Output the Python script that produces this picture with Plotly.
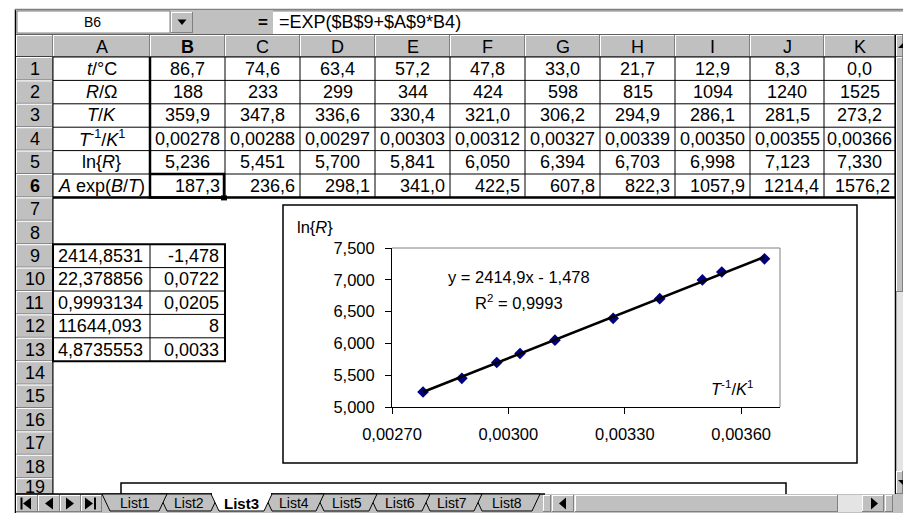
import plotly.graph_objects as go

W, H = 903, 513

# ---------------- data ----------------
col_letters = ["A", "B", "C", "D", "E", "F", "G", "H", "I", "J", "K"]
row_labels = ["<i>t</i>/°C", "<i>R</i>/Ω", "<i>T</i>/<i>K</i>",
              "<i>T</i><sup>-1</sup>/<i>K</i><sup>1</sup>", "ln{<i>R</i>}",
              "<i>A</i> exp(<i>B</i>/<i>T</i>)"]
t_C = [86.7, 74.6, 63.4, 57.2, 47.8, 33.0, 21.7, 12.9, 8.3, 0.0]
R_ohm = [188, 233, 299, 344, 424, 598, 815, 1094, 1240, 1525]
T_K = [359.9, 347.8, 336.6, 330.4, 321.0, 306.2, 294.9, 286.1, 281.5, 273.2]
inv_T = [0.00278, 0.00288, 0.00297, 0.00303, 0.00312, 0.00327, 0.00339, 0.00350, 0.00355, 0.00366]
ln_R = [5.236, 5.451, 5.700, 5.841, 6.050, 6.394, 6.703, 6.998, 7.123, 7.330]
fit_R = [187.3, 236.6, 298.1, 341.0, 422.5, 607.8, 822.3, 1057.9, 1214.4, 1576.2]
linest_A = [2414.8531, 22.378856, 0.9993134, 11644.093, 4.8735553]
linest_B = [-1.478, 0.0722, 0.0205, 8, 0.0033]
slope, intercept, r_squared = 2414.9, -1.478, 0.9993
x_ticks = [0.0027, 0.0030, 0.0033, 0.0036]
sheet_tabs = ["List1", "List2", "List3", "List4", "List5", "List6", "List7", "List8"]
active_tab = "List3"
name_box = "B6"
formula = "=EXP($B$9+$A$9*B4)"

FONT = "Liberation Sans, Arial, sans-serif"
GRAY = "#c0c0c0"
DARK = "#808080"

shapes, annos = [], []


def px(x):
    return x / W


def py(y):
    return 1 - y / H


def rect(x0, y0, x1, y1, fill=None, color=None, width=1, layer="below"):
    shapes.append(dict(type="rect", xref="paper", yref="paper",
                       x0=px(x0), x1=px(x1), y0=py(y1), y1=py(y0),
                       fillcolor=fill or "rgba(0,0,0,0)",
                       line=dict(color=color or "rgba(0,0,0,0)", width=width if color else 0),
                       layer=layer))


def line(x0, y0, x1, y1, color="black", width=1, layer="below"):
    shapes.append(dict(type="line", xref="paper", yref="paper",
                       x0=px(x0), x1=px(x1), y0=py(y0), y1=py(y1),
                       line=dict(color=color, width=width), layer=layer))


def poly(pts, fill="black", color=None, width=1, layer="below"):
    d = "M " + " L ".join(f"{px(x)},{py(y)}" for x, y in pts) + " Z"
    shapes.append(dict(type="path", xref="paper", yref="paper", path=d,
                       fillcolor=fill,
                       line=dict(color=color or "rgba(0,0,0,0)", width=width if color else 0),
                       layer=layer))


def text(x, y, s, size=18, xanchor="center", family=FONT, color="black"):
    annos.append(dict(xref="paper", yref="paper", x=px(x), y=py(y), text=s,
                      showarrow=False, xanchor=xanchor, yanchor="middle",
                      font=dict(size=size, family=family, color=color)))


def bevel(x0, y0, x1, y1, fill=GRAY):
    rect(x0, y0, x1, y1, fill=fill)
    line(x0, y0 + 0.5, x1, y0 + 0.5, "white")
    line(x0 + 0.5, y0, x0 + 0.5, y1, "white")
    line(x0, y1 - 0.5, x1, y1 - 0.5, DARK)
    line(x1 - 0.5, y0, x1 - 0.5, y1, DARK)


def fmt(v, d):
    return f"{v:.{d}f}".replace(".", ",")


# ---------------- geometry ----------------
cols = [53, 150, 225, 300, 375, 450, 525, 600, 675, 750, 824, 895]
HDR_T, HDR_B, RH = 35, 57, 23.4
TAB_T = 494


def rtop(n):
    return HDR_B + (n - 1) * RH


# frame
line(15.5, 9, 15.5, 513, "black", 1.5)
line(15, 9.5, 903, 9.5, DARK, 1.5)

# formula bar
rect(16, 10, 903, 35, fill=GRAY)
rect(17, 11, 170, 33, fill="white", color=DARK)
text(92, 22, name_box, size=14)
bevel(171, 12, 193, 33)
poly([(177.5, 19.5), (186.5, 19.5), (182, 25)])
text(263, 22, "<b>=</b>", size=17)
rect(273, 11, 903, 34, fill="white")
line(273, 11, 903, 11, DARK)
text(277, 22, formula, size=18, xanchor="left")
line(16, 35, 903, 35, "black")

# column headers
bevel(16, HDR_T, cols[0], HDR_B)
for i, c in enumerate(col_letters):
    bevel(cols[i], HDR_T, cols[i + 1], HDR_B)
    lab = f"<b>{c}</b>" if c == "B" else c
    text((cols[i] + cols[i + 1]) / 2, (HDR_T + HDR_B) / 2 + 0.5, lab, size=18)
line(16, HDR_B, 895, HDR_B, "black")

# row headers
for n in range(1, 20):
    y0, y1 = rtop(n), min(rtop(n + 1), TAB_T)
    bevel(16, y0, cols[0], y1)
    lab = f"<b>{n}</b>" if n == 6 else str(n)
    yc = (y0 + y1) / 2 if n < 19 else 487
    text(34.5, yc, lab, size=18)
line(cols[0], HDR_B, cols[0], TAB_T, "black")

# data block rows 1-6
rows_vals = [
    [fmt(v, 1) for v in t_C],
    [str(v) for v in R_ohm],
    [fmt(v, 1) for v in T_K],
    [fmt(v, 5) for v in inv_T],
    [fmt(v, 3) for v in ln_R],
    [fmt(v, 1) for v in fit_R],
]
for r in range(6):
    y0, y1 = rtop(r + 1), rtop(r + 2)
    yc = (y0 + y1) / 2
    if r < 5:
        text((cols[0] + cols[1]) / 2, yc, row_labels[r], size=18)
    else:
        text(cols[0] + 3, yc, row_labels[r], size=18, xanchor="left")
    for j, s in enumerate(rows_vals[r]):
        if r < 5:
            text((cols[j + 1] + cols[j + 2]) / 2, yc, s, size=18)
        else:
            text(cols[j + 2] - 3, yc, s, size=18, xanchor="right")
for r in range(1, 7):
    line(cols[0], rtop(r + 1), cols[-1], rtop(r + 1), "black", 1)
for c in cols[1:]:
    line(c, HDR_B, c, rtop(7), "black", 1)
line(cols[1], HDR_B, cols[1], rtop(6), "black", 2.5)
line(cols[0], rtop(7), cols[-1], rtop(7), "black", 2.5)
# active cell B6
rect(cols[1], rtop(6), cols[2] - 1, rtop(7), color="black", width=2.5)
rect(cols[2] - 4, rtop(7) - 2, cols[2] + 2, rtop(7) + 3, fill="black")

# LINEST block rows 9-13
for k in range(5):
    y0, y1 = rtop(9 + k), rtop(10 + k)
    yc = (y0 + y1) / 2
    text(cols[0] + 3, yc, str(linest_A[k]).replace(".", ","), size=18, xanchor="left")
    text(cols[2] - 4, yc, str(linest_B[k]).replace(".", ","), size=18, xanchor="right")
    if k > 0:
        line(cols[0], y0, cols[2], y0, "black", 1)
line(cols[1], rtop(9), cols[1], rtop(14), "black", 1)
rect(cols[0], rtop(9), cols[2], rtop(14), color="black", width=2)

# chart boxes
rect(121, 483, 786, 520, fill="white", color="black", width=1.5)
rect(283, 205, 857, 463, fill="white", color="black", width=1.5)

# vertical scrollbar
rect(895, HDR_T, 903, TAB_T, fill="#e4e4e4")
line(895.5, HDR_T, 895.5, TAB_T, "black", 1.5)
bevel(896, HDR_T, 903, 57)
poly([(898, 48), (903, 48), (903, 43)])
bevel(896, 57, 903, 292)
bevel(896, 471, 903, TAB_T)
poly([(898, 480), (903, 480), (903, 485)])

# sheet tab bar
rect(16, TAB_T, 903, 513, fill=GRAY)
line(16, TAB_T, 545, TAB_T, "black", 1.5)
nav = [(16, 38), (38, 60), (60, 81), (81, 102)]
for a, b in nav:
    bevel(a, TAB_T + 1, b, 512)
cy = 503.5
line(21.5, cy - 6, 21.5, cy + 6, "black", 2)
poly([(23, cy), (31, cy - 6), (31, cy + 6)])
poly([(45, cy), (53, cy - 6), (53, cy + 6)])
poly([(74, cy), (66, cy - 6), (66, cy + 6)])
poly([(93, cy), (85, cy - 6), (85, cy + 6)])
line(95, cy - 6, 95, cy + 6, "black", 2)

bounds = [106, 163, 215, 268, 320, 373, 426, 478, 536]
order = list(range(len(sheet_tabs)))[::-1]
act = sheet_tabs.index(active_tab)
order.remove(act)
order.append(act)
for i in order:
    a, b = bounds[i], bounds[i + 1]
    fill = "white" if i == act else GRAY
    pts = [(a - 4, TAB_T), (b + 4, TAB_T), (b - 4, 511), (a + 4, 511)]
    poly(pts, fill=fill, color="black", width=1)
    if i == act:
        line(a - 3, TAB_T, b + 3, TAB_T, "white", 2)
for i, name in enumerate(sheet_tabs):
    lab = f"<b>{name}</b>" if name == active_tab else name
    text((bounds[i] + bounds[i + 1]) / 2, 503, lab, size=15 if name == active_tab else 14)

bevel(543, TAB_T + 1, 551, 512)
bevel(552, TAB_T + 1, 574, 512)
poly([(559, cy), (566, cy - 6), (566, cy + 6)])
rect(574, TAB_T + 1, 862, 512, fill="#e4e4e4")
bevel(575, TAB_T + 1, 838, 512)
bevel(862, TAB_T + 1, 884, 512)
poly([(878, cy), (871, cy - 6), (871, cy + 6)])
bevel(885, TAB_T + 1, 893, 512)

# ---------------- chart ----------------
x_lo, x_hi = min(inv_T), max(inv_T)
fig = go.Figure()
fig.add_trace(go.Scatter(x=inv_T, y=ln_R, mode="markers",
                         marker=dict(symbol="diamond", size=9, color="#000080",
                                     line=dict(width=0)),
                         showlegend=False, hoverinfo="skip"))
fig.add_trace(go.Scatter(x=[x_lo, x_hi], y=[slope * x_lo + intercept, slope * x_hi + intercept],
                         mode="lines", line=dict(color="black", width=2.6),
                         showlegend=False, hoverinfo="skip"))

PX0, PX1, PY0, PY1 = 392, 780, 248, 407
line(PX0, PY0, PX1, PY0, DARK, 1, layer="above")
line(PX1, PY0, PX1, PY1, DARK, 1, layer="above")

text(295, 227, "ln{<i>R</i>}", size=16.5, xanchor="left")
text(519, 277, "y = " + fmt(slope, 1) + "x - " + fmt(-intercept, 3), size=16.5)
text(519, 302, "R<sup>2</sup> = " + fmt(r_squared, 4), size=16.5)
text(732, 388, "<i>T</i><sup>-1</sup>/<i>K</i><sup>1</sup>", size=16.5)

fig.update_layout(
    width=W, height=H, autosize=False,
    margin=dict(l=0, r=0, t=0, b=0, pad=0, autoexpand=False),
    paper_bgcolor="white", plot_bgcolor="white",
    separators=", ",
    shapes=shapes, annotations=annos,
    font=dict(family=FONT, size=16.5, color="black"),
    xaxis=dict(domain=[px(PX0), px(PX1)], range=[0.0027, 0.0037],
               tickvals=x_ticks, tickformat=".5f", automargin=False,
               showgrid=False, zeroline=False, showline=True, linecolor="black", linewidth=1,
               ticks="outside", ticklen=6, tickcolor="black", ticklabelstandoff=6,
               tickfont=dict(size=16.5, family=FONT, color="black"), fixedrange=True),
    yaxis=dict(domain=[py(PY1), py(PY0)], range=[5.0, 7.5], dtick=0.5, tick0=5.0,
               tickformat=".3f", automargin=False,
               showgrid=False, zeroline=False, showline=True, linecolor="black", linewidth=1,
               ticks="outside", ticklen=6, tickcolor="black", ticklabelstandoff=7,
               tickfont=dict(size=16.5, family=FONT, color="black"), fixedrange=True),
)

fig.write_html("out.html", config={"displayModeBar": False},
               post_script="document.body.style.margin='0';document.body.style.overflow='hidden';")
